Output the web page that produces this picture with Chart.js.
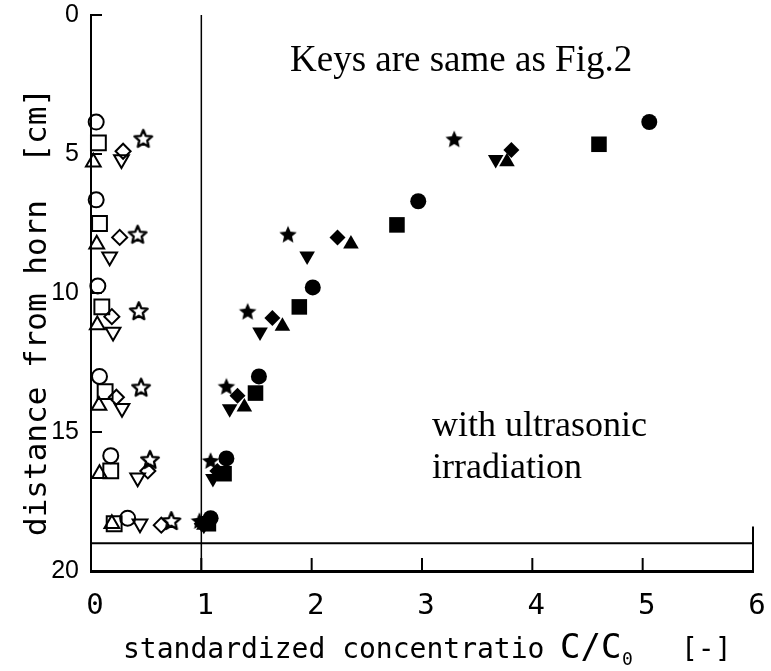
<!DOCTYPE html>
<html>
<head>
<meta charset="utf-8">
<script src="https://cdn.jsdelivr.net/npm/chart.js@4"></script>
<style>
  body { margin: 0; background: #fff; }
</style>
</head>
<body>
<canvas id="chart" width="771" height="671"></canvas>
<script>
// axis ticks
const xTicks = [0, 1, 2, 3, 4, 5, 6];
const yTicks = [0, 5, 10, 15, 20];

// without ultrasonic irradiation (open keys)
const circleOpenX   = [0.047, 0.047, 0.062, 0.077, 0.179, 0.332];
const circleOpenY   = [3.85, 6.65, 9.75, 13.0, 15.85, 18.1];
const squareOpenX   = [0.067, 0.077, 0.098, 0.128, 0.179, 0.21];
const squareOpenY   = [4.6, 7.5, 10.5, 13.55, 16.4, 18.3];
const triOpenX      = [0.021, 0.052, 0.057, 0.072, 0.077, 0.189];
const triOpenY      = [5.3, 8.25, 11.15, 14.05, 16.5, 18.3];
const invTriOpenX   = [0.276, 0.169, 0.2, 0.281, 0.423, 0.444];
const invTriOpenY   = [5.2, 8.7, 11.4, 14.15, 16.65, 18.3];
const diamondOpenX  = [0.291, 0.26, 0.189, 0.23, 0.515, 0.637];
const diamondOpenY  = [4.9, 8.0, 10.85, 13.75, 16.4, 18.35];
const starOpenX     = [0.474, 0.423, 0.433, 0.454, 0.535, 0.728];
const starOpenY     = [4.45, 7.9, 10.65, 13.4, 16.0, 18.2];

// with ultrasonic irradiation (filled keys)
const circleFillX   = [5.06, 2.966, 2.01, 1.522, 1.227, 1.084];
const circleFillY   = [3.85, 6.7, 9.8, 13.0, 15.95, 18.1];
const squareFillX   = [4.604, 2.773, 1.888, 1.491, 1.206, 1.064];
const squareFillY   = [4.65, 7.55, 10.5, 13.6, 16.5, 18.3];
const triFillX      = [3.77, 2.356, 1.735, 1.39, 1.155, 1.023];
const triFillY      = [5.28, 8.24, 11.2, 14.1, 16.55, 18.35];
const invTriFillX   = [3.668, 1.959, 1.532, 1.257, 1.105, 1.023];
const invTriFillY   = [5.2, 8.67, 11.4, 14.16, 16.67, 18.35];
const diamondFillX  = [3.81, 2.234, 1.644, 1.328, 1.145, 1.003];
const diamondFillY  = [4.86, 8.0, 10.9, 13.7, 16.4, 18.3];
const starFillX     = [3.292, 1.786, 1.42, 1.227, 1.084, 0.983];
const starFillY     = [4.47, 7.9, 10.67, 13.37, 16.04, 18.2];

// reference lines
const unityLineX = [1, 1];
const unityLineY = [0, 20];
const bottomLineX = [0, 6];
const bottomLineY = [19, 19];
const rightLineX = [6, 6];
const rightLineY = [18.4, 20];

function pts(xs, ys) {
  return xs.map((x, i) => ({ x: x, y: ys[i] }));
}

function starCanvas(filled) {
  const c = document.createElement('canvas');
  c.width = 22; c.height = 22;
  const g = c.getContext('2d');
  g.beginPath();
  for (let i = 0; i < 10; i++) {
    const r = i % 2 ? 4.2 : 9.2;
    const a = -Math.PI / 2 + i * Math.PI / 5;
    g.lineTo(11 + r * Math.cos(a), 11.5 + r * Math.sin(a));
  }
  g.closePath();
  if (filled) {
    g.fillStyle = '#000';
    g.fill();
  } else {
    g.lineWidth = 2.4;
    g.lineJoin = 'round';
    g.strokeStyle = '#000';
    g.stroke();
  }
  return c;
}

const openStar = starCanvas(false);
const filledStar = starCanvas(true);

function keys(xs, ys, style, radius, filled, rotation) {
  return {
    data: pts(xs, ys),
    pointStyle: style,
    pointRadius: radius,
    pointRotation: rotation || 0,
    pointBorderWidth: filled ? 0 : 2,
    pointBorderColor: '#000',
    pointBackgroundColor: filled ? '#000' : 'rgba(0,0,0,0)',
    showLine: false
  };
}

function refLine(xs, ys, width) {
  return {
    data: pts(xs, ys),
    showLine: true,
    borderColor: '#000',
    borderWidth: width || 1.5,
    pointRadius: 0,
    fill: false
  };
}

const annotations = {
  id: 'annotations',
  afterDraw(chart) {
    const ctx = chart.ctx;
    const xs = chart.scales.x;
    const ys = chart.scales.y;
    const area = chart.chartArea;
    ctx.save();
    ctx.strokeStyle = '#000';
    ctx.lineWidth = 2;
    // inward tick marks
    yTicks.slice(0, -1).forEach(v => {
      const p = ys.getPixelForValue(v);
      ctx.beginPath();
      ctx.moveTo(area.left, p);
      ctx.lineTo(area.left + 11, p);
      ctx.stroke();
    });
    xTicks.slice(1).forEach(v => {
      const p = xs.getPixelForValue(v);
      ctx.beginPath();
      ctx.moveTo(p, area.bottom);
      ctx.lineTo(p, area.bottom - 13);
      ctx.stroke();
    });

    ctx.fillStyle = '#000';
    ctx.textBaseline = 'alphabetic';
    ctx.textAlign = 'left';
    ctx.font = '37px "Liberation Serif", "Times New Roman", serif';
    ctx.fillText('Keys are same as Fig.2', 290, 71);
    ctx.font = '36px "Liberation Serif", "Times New Roman", serif';
    ctx.fillText('with ultrasonic', 432, 436);
    ctx.fillText('irradiation', 432, 478);

    // x axis title
    const mono = '"DejaVu Sans Mono", monospace';
    ctx.font = '28px ' + mono;
    ctx.fillText('standardized concentratio', 123, 658);
    ctx.font = '34px ' + mono;
    ctx.fillText('C/C', 560, 658);
    ctx.font = '18px ' + mono;
    ctx.fillText('0', 622, 665);
    ctx.font = '28px ' + mono;
    ctx.fillText('[-]', 681, 658);

    // y axis title
    ctx.translate(46, 312);
    ctx.rotate(-Math.PI / 2);
    ctx.textAlign = 'center';
    ctx.font = '31px ' + mono;
    ctx.fillText('distance from horn  [cm]', 0, 0);
    ctx.restore();
  }
};

new Chart(document.getElementById('chart'), {
  type: 'scatter',
  data: {
    datasets: [
      keys(circleOpenX, circleOpenY, 'circle', 7.5, false),
      keys(squareOpenX, squareOpenY, 'rect', 10.5, false),
      keys(triOpenX, triOpenY, 'triangle', 8.5, false),
      keys(invTriOpenX, invTriOpenY, 'triangle', 8.5, false, 180),
      keys(diamondOpenX, diamondOpenY, 'rectRot', 7.5, false),
      keys(starOpenX, starOpenY, openStar, 9, false),
      keys(circleFillX, circleFillY, 'circle', 8, true),
      keys(squareFillX, squareFillY, 'rect', 11, true),
      keys(triFillX, triFillY, 'triangle', 9, true),
      keys(invTriFillX, invTriFillY, 'triangle', 9, true, 180),
      keys(diamondFillX, diamondFillY, 'rectRot', 8, true),
      keys(starFillX, starFillY, filledStar, 9, true),
      refLine(unityLineX, unityLineY),
      refLine(bottomLineX, bottomLineY, 2),
      refLine(rightLineX, rightLineY, 2)
    ]
  },
  options: {
    responsive: false,
    animation: false,
    clip: false,
    layout: { padding: { top: 15, right: 18, left: 0, bottom: 0 } },
    plugins: {
      legend: { display: false },
      tooltip: { enabled: false }
    },
    scales: {
      x: {
        type: 'linear',
        min: 0,
        max: 6,
        afterBuildTicks: s => { s.ticks = xTicks.map(v => ({ value: v })); },
        afterFit: s => {
          s.height = 100;
          s.paddingLeft = 0;
          s.paddingRight = 0;
        },
        grid: { display: false, drawTicks: false },
        border: { display: true, color: '#000', width: 3 },
        ticks: {
          color: '#000',
          padding: 18,
          labelOffset: 4,
          autoSkip: false,
          maxRotation: 0,
          font: { family: '"DejaVu Sans Mono", monospace', size: 29 }
        }
      },
      y: {
        type: 'linear',
        reverse: true,
        min: 0,
        max: 20,
        afterBuildTicks: s => { s.ticks = yTicks.map(v => ({ value: v })); },
        afterFit: s => {
          s.width = 91;
          s.paddingTop = 0;
          s.paddingBottom = 0;
        },
        grid: { display: false, drawTicks: false },
        border: { display: true, color: '#000', width: 2 },
        ticks: {
          color: '#000',
          padding: 12,
          font: { family: '"Liberation Sans", Arial, sans-serif', size: 25 }
        }
      }
    }
  },
  plugins: [annotations]
});
</script>
</body>
</html>
